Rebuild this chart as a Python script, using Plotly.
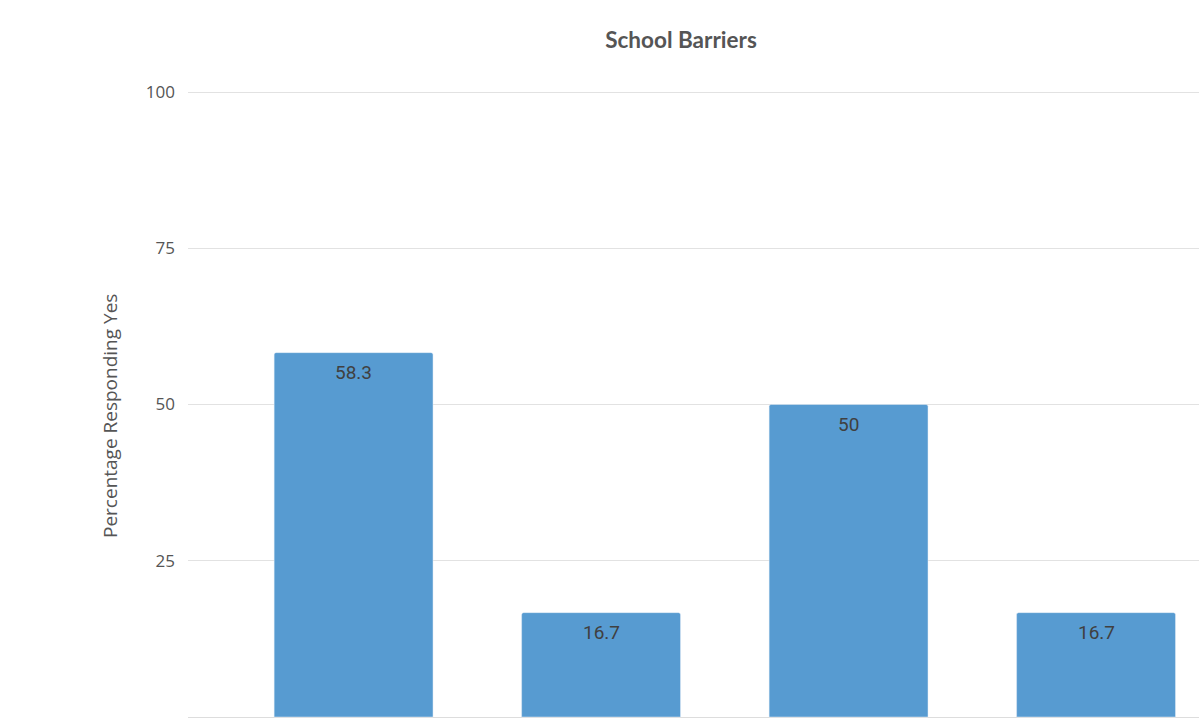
import plotly.graph_objects as go

categories = ["Barrier A", "Barrier B", "Barrier C", "Barrier D"]
values = [58.3, 16.7, 50, 16.7]
labels = ["58.3", "16.7", "50", "16.7"]
y_ticks = [0, 25, 50, 75, 100]

fig = go.Figure(go.Bar(
    x=categories, y=values,
    marker=dict(color="#579BD1", cornerradius=2),
    hoverinfo="skip",
))

for c, v, t in zip(categories, values, labels):
    fig.add_annotation(x=c, y=v, text=t, showarrow=False,
                       yanchor="top", yshift=-6,
                       font=dict(family="Roboto", size=19, color="#404040"))

fig.add_annotation(text="Percentage Responding Yes", xref="paper", yref="paper",
                   x=(110 - 188) / 1011, y=(718 - 416) / 630, xanchor="center",
                   yanchor="middle", textangle=-90, showarrow=False,
                   font=dict(family="Open Sans", size=19, color="#555555"))

fig.update_layout(
    width=1199, height=718,
    margin=dict(l=188, r=0, t=88, b=0),
    paper_bgcolor="white", plot_bgcolor="white",
    bargap=0.358,
    showlegend=False,
    title=dict(text="<b>School Barriers</b>", x=681/1199, xanchor="center",
               y=1-40/718, yanchor="middle",
               font=dict(family="Lato", size=22.5, color="#555555")),
    font=dict(family="Open Sans", color="#555555"),
)
fig.update_xaxes(range=[-0.669, 3.416], showticklabels=False, showgrid=False,
                 zeroline=False, showline=False, ticks="", automargin=False)
fig.update_yaxes(range=[-0.16, 100.64], tickvals=y_ticks, ticktext=[str(v) for v in y_ticks],
                 showgrid=True, gridcolor="#E2E2E2", gridwidth=1.2,
                 zeroline=True, zerolinecolor="#DDDDDD", zerolinewidth=1.2,
                 tickfont=dict(family="Open Sans", size=17, color="#555555"),
                 ticks="", ticklen=0, ticklabelstandoff=12,
                 automargin=False)

fig.write_html("out.html")
